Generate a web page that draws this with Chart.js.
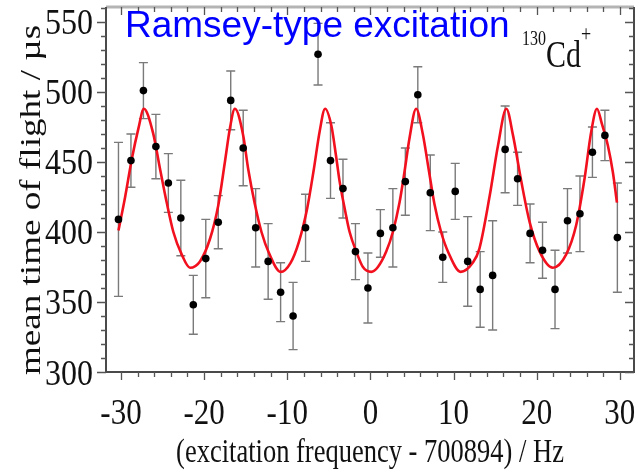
<!DOCTYPE html>
<html>
<head>
<meta charset="utf-8">
<script src="https://cdn.jsdelivr.net/npm/chart.js@4.4.1/dist/chart.umd.min.js"></script>
<style>
  html, body { margin: 0; padding: 0; background: #fff; }
  #wrap { width: 638px; height: 472px; position: relative; }
</style>
</head>
<body>
<div id="wrap"><canvas id="ramsey"></canvas></div>
<script>
// measured points: detuning (Hz), mean TOF (us), error (us)
const freq = [-30.3, -28.8, -27.3, -25.8, -24.3, -22.8, -21.3, -19.8, -18.3, -16.8,
  -15.3, -13.8, -12.3, -10.8, -9.3, -7.8, -6.3, -4.8, -3.3, -1.8,
  -0.3, 1.2, 2.7, 4.2, 5.7, 7.2, 8.7, 10.2, 11.7, 13.2,
  14.7, 16.2, 17.7, 19.2, 20.7, 22.2, 23.7, 25.2, 26.7, 28.2, 29.7];
const tof = [409, 451, 501, 461, 435, 410, 348, 381, 407, 494,
  460, 403, 379, 357, 340, 403, 527, 451, 431, 386,
  360, 399, 403, 436, 498, 428, 382, 429, 379, 359,
  369, 459, 438, 399, 387, 359, 408, 413, 457, 469, 396];
const tofErr = [55, 19, 20, 23, 21, 27, 21, 28, 19, 21,
  27, 28, 27, 21, 24, 24, 22, 27, 21, 20,
  25, 17, 28, 24, 20, 27, 18, 20, 32, 27,
  39, 31, 19, 21, 20, 28, 23, 27, 18, 18, 39];

// fitted Ramsey line shape
const fitX = [-30.3, -29.5, -28.7, -27.9, -27.25, -26.15, -25.3, -24.5, -23.7, -22.7,
  -21.7, -20.5, -19.3, -18.3, -17.5, -16.9, -16.3, -15.3, -14.7, -13.9,
  -13.1, -12.2, -10.8, -9.6, -8.6, -7.6, -6.8, -6.1, -5.45, -4.7,
  -4.15, -3.7, -3.1, -2.5, -1.7, -0.9, 0.1, 0.9, 1.9, 2.7,
  3.5, 4.1, 4.7, 5.5, 6.3, 7.0, 7.7, 8.5, 9.4, 10.85,
  12.3, 13.1, 14.35, 15.35, 16.35, 17.15, 18.15, 19.15, 20.35, 21.95,
  23.55, 24.75, 25.75, 26.55, 27.25, 27.85, 28.55, 29.15, 29.65];
const fitY = [401, 425, 452, 474, 488, 471, 445, 421, 400, 384,
  374.5, 379, 395, 419, 450, 474, 488, 469, 445, 420,
  400, 385, 371.5, 378, 393, 417, 445, 472, 488, 476,
  455, 436, 417, 400, 386, 375, 371.5, 375, 386, 400,
  421, 443, 467, 488, 470, 445, 420, 400, 385, 371.5,
  378, 388, 426, 462, 488, 469, 436, 407, 386, 374.5,
  384, 405, 438, 471.5, 488, 477, 462, 443, 421];

const xTicks = [-30, -20, -10, 0, 10, 20, 30];
const yTicks = [300, 350, 400, 450, 500, 550];

const SERIF = "'Liberation Serif', 'DejaVu Serif', serif";
const STRETCH = 1.15;

function tallText(ctx, str, x, y, sx, sy) {
  ctx.save();
  ctx.translate(x, y);
  ctx.scale(sx, sy);
  ctx.fillText(str, 0, 0);
  ctx.restore();
}

const errorBars = {
  id: 'errorBars',
  beforeDatasetsDraw(chart) {
    const ctx = chart.ctx, xs = chart.scales.x, ys = chart.scales.y;
    ctx.save();
    ctx.strokeStyle = '#7a7a7a';
    ctx.lineWidth = 1.4;
    freq.forEach((f, i) => {
      const px = xs.getPixelForValue(f);
      const hi = ys.getPixelForValue(tof[i] + tofErr[i]);
      const lo = ys.getPixelForValue(tof[i] - tofErr[i]);
      ctx.beginPath();
      ctx.moveTo(px, hi); ctx.lineTo(px, lo);
      ctx.moveTo(px - 4.5, hi); ctx.lineTo(px + 4.5, hi);
      ctx.moveTo(px - 4.5, lo); ctx.lineTo(px + 4.5, lo);
      ctx.stroke();
    });
    ctx.restore();
  }
};

const frame = {
  id: 'frame',
  afterDraw(chart) {
    const ctx = chart.ctx, xs = chart.scales.x, ys = chart.scales.y;
    const { left, right, top, bottom } = chart.chartArea;
    ctx.save();

    // box
    ctx.strokeStyle = '#b4b4b4';
    ctx.lineWidth = 3;
    ctx.beginPath(); ctx.moveTo(left, top); ctx.lineTo(right, top); ctx.stroke();
    ctx.strokeStyle = '#4a4a4a';
    ctx.lineWidth = 2;
    ctx.beginPath();
    ctx.moveTo(left, top); ctx.lineTo(left, bottom); ctx.lineTo(right, bottom); ctx.lineTo(right, top);
    ctx.stroke();

    // tick marks: outward on left/bottom, inward on top/right
    ctx.strokeStyle = '#555';
    ctx.lineWidth = 1.3;
    ctx.beginPath();
    for (let v = -30; v <= 30; v += 2) {
      const px = Math.round(xs.getPixelForValue(v)) + 0.5;
      const len = v % 10 === 0 ? 8 : 5;
      ctx.moveTo(px, bottom); ctx.lineTo(px, bottom + len);
      ctx.moveTo(px, top); ctx.lineTo(px, top + len);
    }
    for (let v = 300; v <= 560; v += 10) {
      const py = Math.round(ys.getPixelForValue(v)) + 0.5;
      const len = v % 50 === 0 ? 9 : 5;
      ctx.moveTo(left, py); ctx.lineTo(left - len, py);
      ctx.moveTo(right, py); ctx.lineTo(right - len, py);
    }
    ctx.stroke();

    // tick labels
    ctx.fillStyle = '#111';
    ctx.font = '31px ' + SERIF;
    ctx.textBaseline = 'alphabetic';
    ctx.textAlign = 'center';
    xTicks.forEach(v => tallText(ctx, String(v), xs.getPixelForValue(v), 424, 1, STRETCH));
    ctx.textAlign = 'right';
    ctx.font = '32px ' + SERIF;
    yTicks.forEach(v => tallText(ctx, String(v), 93, ys.getPixelForValue(v) + 12.5, 1, STRETCH));

    // axis titles
    ctx.textAlign = 'center';
    ctx.font = '26.5px ' + SERIF;
    tallText(ctx, '(excitation frequency - 700894) / Hz', (left + right) / 2, 462, 1, 1.3);
    ctx.save();
    ctx.translate(40, 200);
    ctx.rotate(-Math.PI / 2);
    ctx.font = '29px ' + SERIF;
    tallText(ctx, 'mean time of flight / \u00b5s', 0, 0, 1.28, 1);
    ctx.restore();

    // ion label
    ctx.textAlign = 'left';
    ctx.font = '16px ' + SERIF;
    tallText(ctx, '130', 522, 45, 1, 1.25);
    ctx.font = '30px ' + SERIF;
    tallText(ctx, 'Cd', 546, 67, 1, 1.25);
    ctx.font = '18px ' + SERIF;
    tallText(ctx, '+', 581, 41, 1, 1.25);

    // panel heading
    ctx.fillStyle = '#0000ff';
    ctx.font = '37px "Liberation Sans", Arial, sans-serif';
    ctx.fillText('Ramsey-type excitation', 125, 37);
    ctx.restore();
  }
};

new Chart(document.getElementById('ramsey'), {
  type: 'scatter',
  data: {
    datasets: [
      {
        label: 'data',
        data: freq.map((f, i) => ({ x: f, y: tof[i] })),
        pointRadius: 3.8,
        pointBackgroundColor: '#000',
        pointBorderWidth: 0,
        showLine: false,
        order: 1,
      },
      {
        label: 'fit',
        type: 'line',
        data: fitX.map((f, i) => ({ x: f, y: fitY[i] })),
        borderColor: '#f2101e',
        borderWidth: 2.6,
        pointRadius: 0,
        cubicInterpolationMode: 'monotone',
        fill: false,
        order: 2,
      },
    ],
  },
  options: {
    responsive: true,
    maintainAspectRatio: false,
    animation: false,
    layout: { padding: { left: 106, right: 4, top: 7, bottom: 100 } },
    plugins: { legend: { display: false }, tooltip: { enabled: false }, title: { display: false } },
    scales: {
      x: { type: 'linear', min: -31.8, max: 31.7, display: false },
      y: { type: 'linear', min: 300, max: 560.7, display: false },
    },
  },
  plugins: [errorBars, frame],
});
</script>
</body>
</html>
